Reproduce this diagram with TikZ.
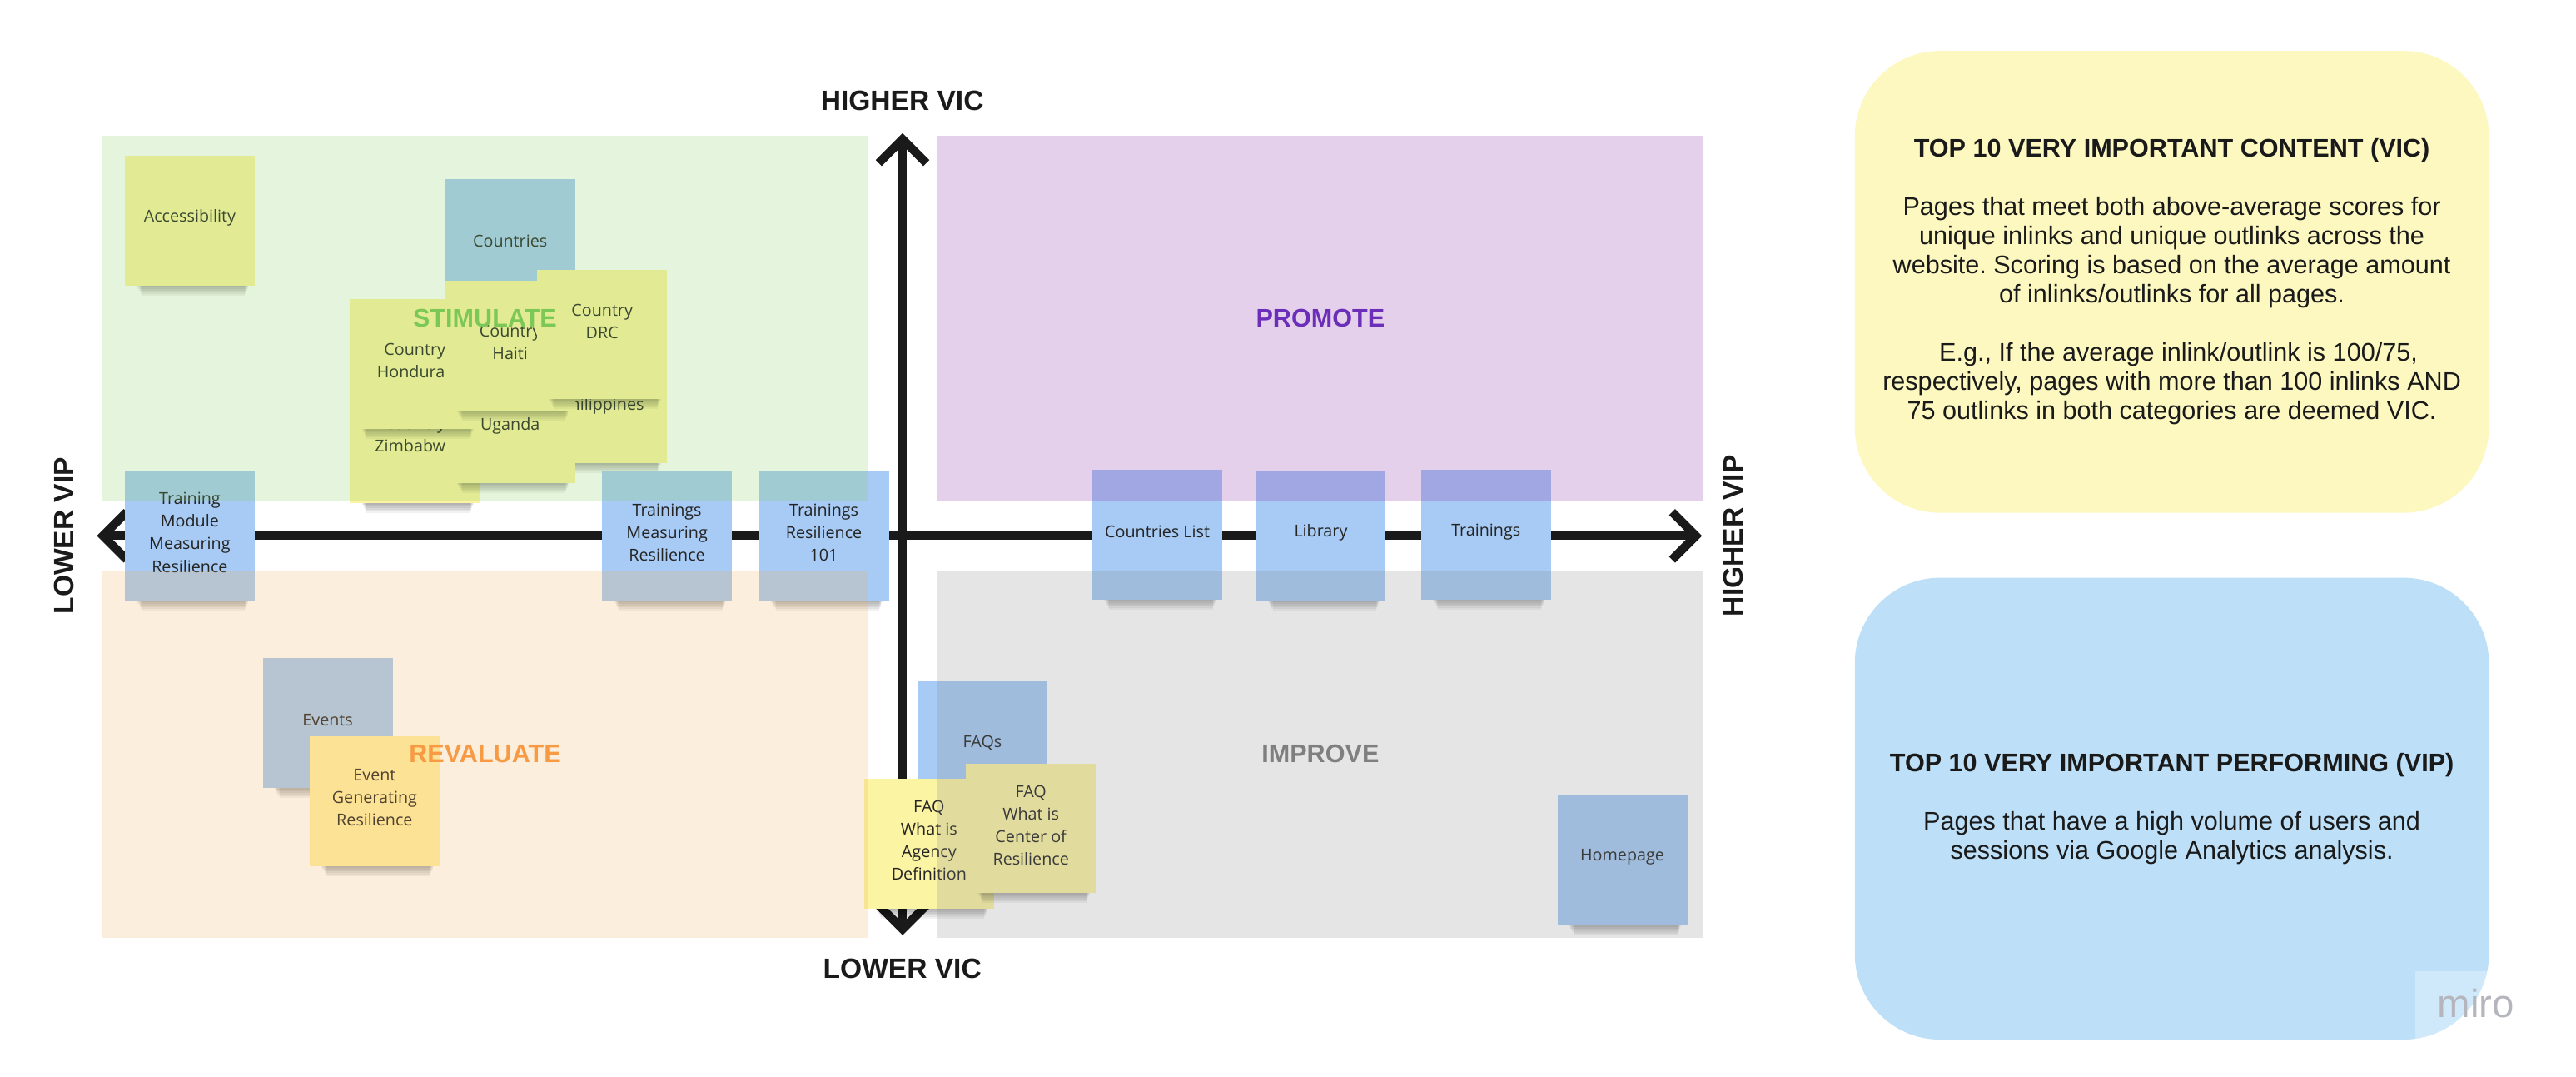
\documentclass[tikz,border=0pt]{standalone}
\usepackage{fontspec}
\setmainfont{Liberation Sans}
\newfontfamily\notefont{Open Sans}
\frenchspacing

\definecolor{qgreen}{RGB}{141,205,96}
\definecolor{qpurple}{RGB}{141,41,169}
\definecolor{qorange}{RGB}{241,178,96}
\definecolor{qgray}{RGB}{137,137,137}
\definecolor{nblue}{RGB}{167,203,244}
\definecolor{nyellow}{RGB}{251,244,163}
\definecolor{norange}{RGB}{255,240,165}
\definecolor{ink}{RGB}{26,26,26}
\definecolor{notetext}{RGB}{36,36,36}
\definecolor{panelyellow}{RGB}{252,248,192}
\definecolor{panelblue}{RGB}{189,224,248}
\definecolor{lgreen}{RGB}{124,200,87}
\definecolor{lpurple}{RGB}{106,46,184}
\definecolor{lorange}{RGB}{247,154,67}
\definecolor{lgray}{RGB}{127,127,127}
\definecolor{mirogray}{RGB}{163,163,174}

% #1 name, #2 left, #3 top, #4 fill, #5 text, #6 text shift
\newcommand\sticky[6]{%
  \foreach \k in {1,...,7}{%
    \fill[black, opacity=0.055] (#2+6+\k*0.6,#3+78) rectangle (#2+76-\k*0.4,#3+78+\k);
  }
  \node[stickynote, fill=#4] (#1) at (#2+39.5,#3+39.5) {};
  \node[stickytext, yshift=#6] (#1-t) at (#1.center) {#5};
}

\begin{document}
\begin{tikzpicture}[x=1pt,y=-1pt,
  stickynote/.style={minimum width=79pt, minimum height=79pt, inner sep=0pt},
  stickytext/.style={align=center, inner sep=0pt, text=notetext,
    font=\notefont\fontsize{10}{13.7}\selectfont},
  quad/.style={fill opacity=0.22},
  axisline/.style={line width=5.2pt, draw=ink},
  axislabel/.style={font=\bfseries\fontsize{17}{20}\selectfont, text=ink, inner sep=0pt},
  quadlabel/.style={font=\bfseries\fontsize{15.5}{18}\selectfont, inner sep=0pt},
  panel/.style={rounded corners=52pt, inner sep=0pt, minimum width=386pt, minimum height=281pt},
  paneltext/.style={align=center, inner sep=0pt, text=ink, font=\fontsize{15.5}{17.75}\selectfont}
]
\useasboundingbox (0,0) rectangle (1568,655);
\fill[white] (0,0) rectangle (1568,655);

% axes
\coordinate (hl) at (59,326);
\coordinate (hr) at (1036,326);
\coordinate (vt) at (549.4,81);
\coordinate (vb) at (549.4,569);
\draw[axisline, shorten <=6pt, shorten >=6pt] (hl) -- (hr);
\draw[axisline, shorten <=6pt, shorten >=6pt] (vt) -- (vb);
\draw[axisline] (hl) ++(18.2,-14.5) -- ++(-14.5,14.5) -- ++(14.5,14.5);
\draw[axisline] (hr) ++(-18.2,-14.5) -- ++(14.5,14.5) -- ++(-14.5,14.5);
\draw[axisline] (vt) ++(-14.5,18.2) -- ++(14.5,-14.5) -- ++(14.5,14.5);
\draw[axisline] (vb) ++(-14.5,-18.2) -- ++(14.5,14.5) -- ++(14.5,-14.5);

% sticky notes
\sticky{access}{76}{95}{nyellow}{Accessibility}{2pt}
\sticky{countries}{271}{109}{nblue}{Countries}{2pt}
\sticky{philippines}{327}{203}{nyellow}{Country\\Philippines}{2pt}
\sticky{zimbabwe}{213}{227}{nyellow}{Country\\Zimbabwe}{2pt}
\sticky{uganda}{271}{215}{nyellow}{Country\\Uganda}{2pt}
\sticky{honduras}{213}{182}{nyellow}{Country\\Honduras}{2pt}
\sticky{haiti}{271}{171}{nyellow}{Country\\Haiti}{2pt}
\sticky{drc}{327}{164}{nyellow}{Country\\DRC}{8pt}
\sticky{tmodule}{76}{286.5}{nblue}{Training\\Module\\Measuring\\Resilience}{2pt}
\sticky{tmeasure}{366.5}{286.5}{nblue}{Trainings\\Measuring\\Resilience}{2pt}
\sticky{tres}{462}{286.5}{nblue}{Trainings\\Resilience\\101}{2pt}
\sticky{clist}{665}{286}{nblue}{Countries List}{2pt}
\sticky{library}{764.5}{286.5}{nblue}{Library}{2pt}
\sticky{trainings}{865}{286}{nblue}{Trainings}{2pt}
\sticky{events}{160}{400.5}{nblue}{Events}{2pt}
\sticky{eventgen}{188.5}{448}{norange}{Event\\Generating\\Resilience}{2pt}
\sticky{faqs}{558.5}{414.5}{nblue}{FAQs}{2pt}
\sticky{faqagency}{526}{474}{nyellow}{FAQ\\What is\\Agency\\Definition}{2pt}
\sticky{faqcenter}{588}{464.5}{nyellow}{FAQ\\What is\\Center of\\Resilience}{2pt}
\sticky{homepage}{948}{484}{nblue}{Homepage}{2pt}

% quadrants (translucent, over the notes)
\fill[qgreen, quad] (62,82.5) rectangle (528.5,305);
\fill[qpurple, quad] (570.5,82.5) rectangle (1037,305);
\fill[qorange, quad] (62,347) rectangle (528.5,570.5);
\fill[qgray, quad] (570.5,347) rectangle (1037,570.5);

\node[quadlabel, text=lgreen] (stimulate) at (295.2,193.7) {STIMULATE};
\node[quadlabel, text=lpurple] (promote) at (803.7,193.7) {PROMOTE};
\node[quadlabel, text=lorange] (revaluate) at (295.2,458.7) {REVALUATE};
\node[quadlabel, text=lgray] (improve) at (803.7,458.7) {IMPROVE};

% axis labels
\node[axislabel] (highervic) at (549.2,61.5) {HIGHER VIC};
\node[axislabel] (lowervic) at (549.2,589.5) {LOWER VIC};
\node[axislabel, rotate=90] (lowervip) at (39,326) {LOWER VIP};
\node[axislabel, rotate=90] (highervip) at (1055.3,326) {HIGHER VIP};

% right panels
\node[panel, fill=panelyellow] (vicpanel) at (1322,171.5) {};
\node[paneltext] (victext) at (vicpanel.center) {%
\textbf{TOP 10 VERY IMPORTANT CONTENT (VIC)}\\[17.75pt]
Pages that meet both above-average scores for\\
unique inlinks and unique outlinks across the\\
website. Scoring is based on the average amount\\
of inlinks/outlinks for all pages.\\[17.75pt]
\hspace*{8pt}E.g., If the average inlink/outlink is 100/75,\\
respectively, pages with more than 100 inlinks AND\\
75 outlinks in both categories are deemed VIC.};

\node[panel, fill=panelblue] (vippanel) at (1322,492) {};
\node[paneltext] (viptext) at (vippanel.center) {%
\textbf{TOP 10 VERY IMPORTANT PERFORMING (VIP)}\\[17.75pt]
Pages that have a high volume of users and\\
sessions via Google Analytics analysis.};

% watermark
\fill[white, opacity=0.3] (1470,591) rectangle (1533,633);
\node[anchor=base, inner sep=0pt, text=mirogray!80, font=\fontsize{24}{28}\selectfont] (miro) at (1507,619) {miro};
\end{tikzpicture}
\end{document}
